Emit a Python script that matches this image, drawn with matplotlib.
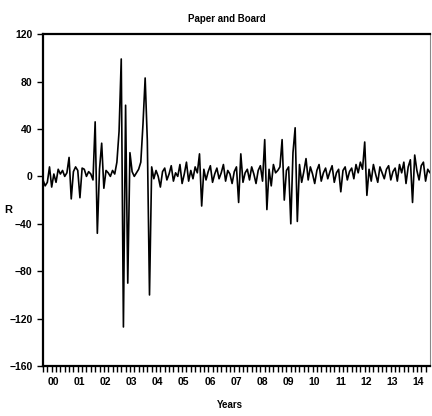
import numpy as np
import matplotlib
matplotlib.use("Agg")
import matplotlib.pyplot as plt
from matplotlib.ticker import MultipleLocator, FixedLocator

title = "Paper and Board"
xlabel = "Years"
ylabel = "R"
year_labels = ["00", "01", "02", "03", "04", "05", "06", "07", "08", "09", "10", "11", "12", "13", "14"]
start_year = 2000

values = [
    -3, -8, -5, 8, -9, 2, -5, 6, 2, 5, 0, 3,
    16, -19, 4, 8, 5, -18, 7, 6, 0, 4, 2, -3,
    46, -48, 6, 28, -10, 5, 3, 0, 5, 2, 12, 38,
    99, -127, 60, -90, 20, 4, 0, 3, 6, 12, 44, 83,
    30, -100, 8, -2, 5, 0, -9, 4, 7, -3, 2, 9,
    -4, 3, 0, 10, -6, 2, 12, -4, 5, -2, 8, 3,
    19, -25, 6, -3, 4, 9, -5, 2, 7, -2, 3, 10,
    -4, 5, 2, -6, 4, 8, -22, 19, -5, 3, 6, -3,
    8, 2, -6, 5, 9, -4, 31, -28, 6, -8, 10, 3,
    5, 8, 31, -20, 5, 8, -40, 20, 41, -38, 10, -5,
    4, 15, -3, 8, 2, -6, 5, 10, -4, 3, 7, -2,
    4, 9, -5, 3, 6, -13, 5, 8, -3, 4, 7, -2,
    10, 3, 12, 6, 29, -16, 6, -4, 10, 2, -5, 8,
    3, -2, 6, 9, -3, 4, 7, -4, 10, 3, 12, -6,
    8, 14, -22, 18, 5, -3, 9, 12, -4, 6, 3, 8,
]

plt.rcParams['font.family'] = ['Liberation Sans', 'DejaVu Sans']

fig = plt.figure(figsize=(4.32, 4.16), dpi=100)
ax = fig.add_axes([0.0995, 0.12, 0.8955, 0.798])

t = start_year + np.arange(len(values)) / 12.0
ax.plot(t, values, color='black', lw=1.2)

ax.set_xlim(2000.0, 2014.83)
ax.set_ylim(-160, 120)
ax.yaxis.set_major_locator(MultipleLocator(40))

ax.set_xticks([start_year + i + 0.4 for i in range(len(year_labels))])
ax.set_xticklabels(year_labels, fontsize=7.5, fontweight='bold')
ax.tick_params(axis='x', which='major', length=0, pad=8)
ax.xaxis.set_minor_locator(FixedLocator(np.arange(2000.0, 2015.0, 1 / 6.0)))
ax.tick_params(axis='x', which='minor', length=4, width=1.0, direction='out')

ax.tick_params(axis='y', which='major', length=4, width=1.0, direction='out', labelsize=7.5)
for lbl in ax.get_yticklabels():
    lbl.set_fontweight('bold')

for s in ['left', 'bottom', 'top']:
    ax.spines[s].set_linewidth(1.6)
ax.spines['right'].set_linewidth(0.8)
ax.spines['right'].set_color('#888888')

fig.text(0.525, 0.955, title, ha='center', va='center', fontsize=7, fontweight='bold')
fig.text(0.533, 0.027, xlabel, ha='center', va='center', fontsize=7, fontweight='bold')
fig.text(0.02, 0.495, ylabel, ha='center', va='center', fontsize=8, fontweight='bold')

fig.savefig("out.png", dpi=100)
